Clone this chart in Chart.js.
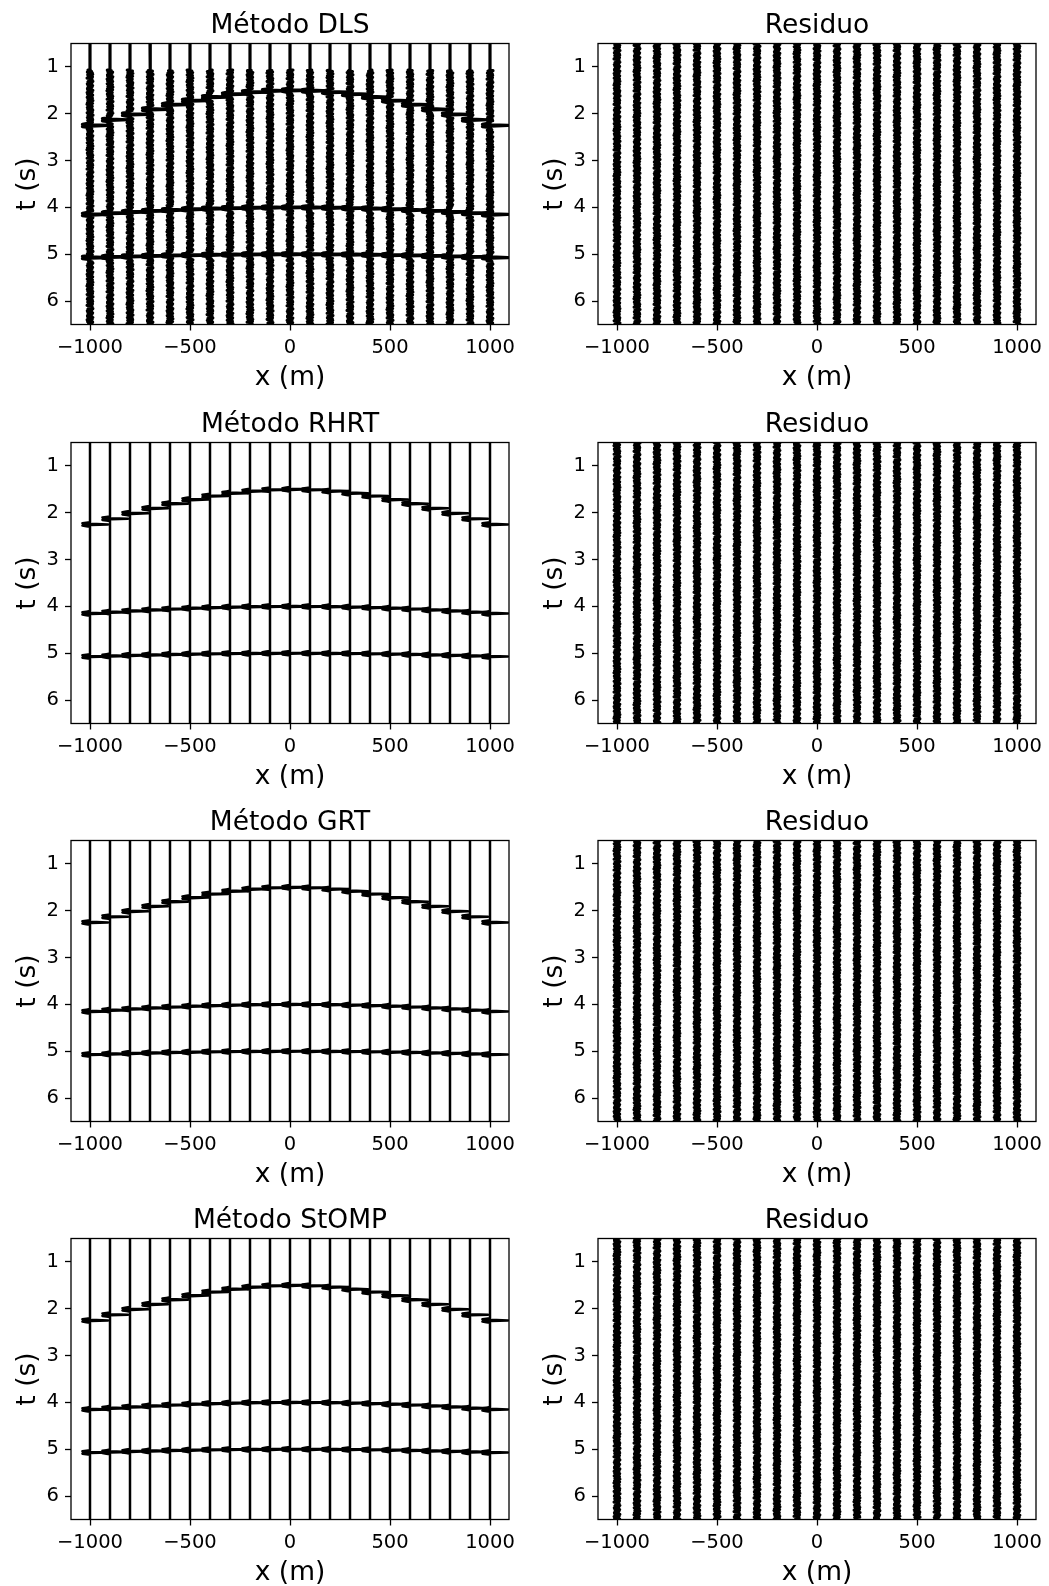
<!DOCTYPE html>
<html>
<head>
<meta charset="utf-8">
<script src="https://cdn.jsdelivr.net/npm/chart.js@4.4.1/dist/chart.umd.min.js"></script>
<style>
  html, body { margin: 0; padding: 0; background: #fff; overflow: hidden; }
  #fig { position: relative; width: 1049px; height: 1586px; background: #fff; overflow: hidden; }
  #fig canvas { position: absolute; }
</style>
</head>
<body>
<div id="fig"></div>
<script>
// receiver offsets (m)
const traceX = [-1000, -900, -800, -700, -600, -500, -400, -300, -200, -100, 0,
                100, 200, 300, 400, 500, 600, 700, 800, 900, 1000];

// reflection times (s) per trace for the three events
const event1 = [2.250, 2.128, 2.013, 1.905, 1.806, 1.719, 1.643, 1.582, 1.537, 1.509, 1.500,
                1.509, 1.537, 1.582, 1.643, 1.719, 1.806, 1.905, 2.013, 2.128, 2.250];
const event2 = [4.150, 4.122, 4.097, 4.074, 4.055, 4.038, 4.024, 4.014, 4.006, 4.002, 4.000,
                4.002, 4.006, 4.014, 4.024, 4.038, 4.055, 4.074, 4.097, 4.122, 4.150];
const event3 = [5.070, 5.057, 5.045, 5.035, 5.025, 5.018, 5.011, 5.006, 5.003, 5.001, 5.000,
                5.001, 5.003, 5.006, 5.011, 5.018, 5.025, 5.035, 5.045, 5.057, 5.070];

// wavelet shape (time offset in s, normalised amplitude)
const waveletDt  = [-0.05, -0.0375, -0.025, -0.0125, 0, 0.0125, 0.025, 0.0375, 0.05];
const waveletAmp = [0, -0.2, -0.42, 0.05, 1, 0.05, -0.42, -0.2, 0];

// noise samples, reused along each trace
const noise = [
  0.42, -0.81, 0.17, 0.93, -0.36, -0.64, 0.28, 0.71, -0.95, 0.05,
  0.58, -0.22, -0.77, 0.88, 0.13, -0.49, 0.66, -0.08, -0.91, 0.35,
  0.79, -0.57, 0.02, 0.47, -0.69, 0.96, -0.31, -0.12, 0.61, -0.84,
  0.24, 0.85, -0.43, -0.99, 0.39, 0.11, -0.62, 0.74, -0.18, 0.53,
  -0.88, 0.31, 0.67, -0.05, -0.73, 0.92, -0.27, 0.15, -0.56, 0.81,
  0.08, -0.94, 0.46, -0.33, 0.69, -0.14, 0.98, -0.66, 0.21, -0.41,
  0.55, -0.87, 0.03, 0.76, -0.52, -0.19, 0.89, -0.75, 0.34, 0.12,
  -0.6, 0.83, -0.29, 0.44, -0.97, 0.63, -0.07, -0.46, 0.72, -0.38,
  0.19, 0.94, -0.68, 0.27, -0.16, 0.57, -0.89, 0.41, 0.06, -0.71,
  0.87, -0.24, -0.53, 0.65, -0.02, 0.37, -0.83
];

const xTicks = [-1000, -500, 0, 500, 1000];
const tTicks = [1, 2, 3, 4, 5, 6];

const panelTitles = ['Método DLS', 'Residuo', 'Método RHRT', 'Residuo',
                     'Método GRT', 'Residuo', 'Método StOMP', 'Residuo'];

// what each panel contains: events drawn, time where noise starts (null = clean)
const panelEvents    = [true, false, true, false, true, false, true, false];
const panelNoiseFrom = [1.07, 0.5, null, 0.5, null, 0.5, null, 0.5];

const dt = 0.01;
const nSamples = 601;
const noiseAmp = 15;       // m
const waveletScale = 90;   // m

const rowTops = [0, 399, 797, 1195];

Chart.defaults.font.family = 'DejaVu Sans';
Chart.defaults.color = '#000';

function tracePoints(i, p) {
  const x0 = traceX[i];
  const evts = panelEvents[p] ? [event1[i], event2[i], event3[i]] : [];
  const noiseFrom = panelNoiseFrom[p];
  const near = t => evts.some(te => Math.abs(t - te) < 0.06);
  const pts = [{ x: x0, y: 0.5 }];
  if (noiseFrom === null) {
    pts.push({ x: x0, y: 6.5 });
  } else {
    if (noiseFrom > 0.5) pts.push({ x: x0, y: noiseFrom - 0.005 });
    const shift = (i * 29 + p * 41) % noise.length;
    for (let j = 0; j < nSamples; j++) {
      const t = 0.5 + j * dt;
      if (t < noiseFrom || near(t)) continue;
      pts.push({ x: x0 + noiseAmp * noise[(j + shift) % noise.length], y: t });
    }
  }
  evts.forEach(te => {
    waveletDt.forEach((d, k) => pts.push({ x: x0 + waveletScale * waveletAmp[k], y: te + d }));
  });
  pts.sort((a, b) => a.y - b.y);
  return pts;
}

// full box around the plot area
const frame = {
  id: 'frame',
  afterDatasetsDraw(chart) {
    const { ctx, chartArea: a } = chart;
    ctx.save();
    ctx.strokeStyle = '#000';
    ctx.lineWidth = 1.3;
    ctx.strokeRect(a.left, a.top, a.right - a.left, a.bottom - a.top);
    ctx.restore();
  }
};

const minus = v => String(v).replace('-', '\u2212');

function makePanel(p) {
  const row = Math.floor(p / 2), col = p % 2;
  const canvas = document.createElement('canvas');
  // symmetric margins so the title sits centred over the plot area
  canvas.width = 580;
  canvas.height = 398;
  canvas.style.width = '580px';
  canvas.style.height = '398px';
  canvas.style.left = (col ? 527 : 0) + 'px';
  canvas.style.top = rowTops[row] + 'px';
  document.getElementById('fig').appendChild(canvas);

  const noisy = panelNoiseFrom[p] !== null;
  const datasets = traceX.map((_, i) => ({
    data: tracePoints(i, p),
    showLine: true,
    borderColor: '#000',
    borderWidth: noisy ? 3.2 : 2.5,
    borderJoinStyle: 'round',
    pointRadius: 0,
    tension: 0
  }));

  const grid = {
    drawOnChartArea: false,
    drawTicks: true,
    tickLength: 6,
    tickWidth: 1.3,
    tickColor: '#000'
  };

  new Chart(canvas, {
    type: 'scatter',
    data: { datasets },
    options: {
      responsive: false,
      animation: false,
      devicePixelRatio: 1,
      layout: { padding: 0 },
      plugins: {
        legend: { display: false },
        tooltip: { enabled: false },
        title: {
          display: true,
          text: panelTitles[p],
          color: '#000',
          font: { size: 26.5, weight: 'normal' },
          padding: { top: 10.1, bottom: 1.6 }
        }
      },
      scales: {
        x: {
          type: 'linear',
          min: -1095,
          max: 1095,
          afterFit: s => { s.height = 73.5; },
          afterBuildTicks: s => { s.ticks = xTicks.map(v => ({ value: v })); },
          ticks: { font: { size: 19.5 }, color: '#000', padding: 6, maxRotation: 0, autoSkip: false, callback: minus },
          grid,
          border: { display: false },
          title: { display: true, text: 'x (m)', color: '#000', font: { size: 26.5 }, padding: { top: 0, bottom: 4 } }
        },
        y: {
          type: 'linear',
          reverse: true,
          min: 0.5,
          max: 6.5,
          afterFit: s => { s.width = 71; },
          afterBuildTicks: s => { s.ticks = tTicks.map(v => ({ value: v })); },
          ticks: { font: { size: 19.5 }, color: '#000', padding: 6, autoSkip: false },
          grid,
          border: { display: false },
          title: { display: true, text: 't (s)', color: '#000', font: { size: 26.5 }, padding: { top: 12, bottom: 0 } }
        },
        // empty right-hand margin, same width as the t axis
        yPad: {
          type: 'linear',
          position: 'right',
          min: 0,
          max: 1,
          afterFit: s => { s.width = 71; },
          ticks: { display: false },
          grid: { display: false },
          border: { display: false }
        }
      }
    },
    plugins: [frame]
  });
}

panelTitles.forEach((_, p) => makePanel(p));
</script>
</body>
</html>
